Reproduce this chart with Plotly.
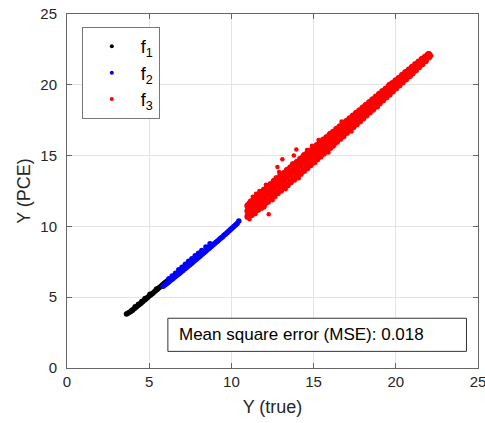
import plotly.graph_objects as go

# ---------------- data ----------------
# f1 (black)
f1_x = [3.62, 3.70, 3.80, 3.90, 4.00, 4.10, 4.20, 4.30, 4.40, 4.50, 4.60, 4.70, 4.80, 4.90,
        5.00, 5.10, 5.20, 5.30, 5.40, 5.50, 5.60, 5.70, 5.80, 5.90, 6.00, 6.10,
        3.95, 4.15, 4.35, 4.55, 4.75, 5.05, 5.45]
f1_y = [3.82, 3.86, 3.93, 4.01, 4.10, 4.20, 4.29, 4.39, 4.49, 4.58, 4.68, 4.78, 4.88, 4.98,
        5.08, 5.17, 5.27, 5.37, 5.47, 5.57, 5.67, 5.76, 5.86, 5.96, 6.05, 6.14,
        4.08, 4.32, 4.51, 4.70, 4.90, 5.21, 5.58]

# f2 (blue)
f2_x = [5.85, 5.95, 6.05, 6.15, 6.25, 6.35, 6.45, 6.55, 6.65, 6.75, 6.85, 6.95, 7.05, 7.15,
        7.25, 7.35, 7.45, 7.55, 7.65, 7.75, 7.85, 7.95, 8.05, 8.15, 8.25, 8.35, 8.45, 8.55,
        8.65, 8.75, 8.85, 8.95, 9.05, 9.15, 9.25, 9.35, 9.45, 9.55, 9.65, 9.75, 9.85, 9.95,
        10.05, 10.15, 10.25, 10.35, 10.45,
        6.20, 6.40, 6.60, 6.80, 7.00, 7.20, 7.40, 7.60, 7.80, 8.00, 8.20, 8.45, 8.70]
f2_y = [5.78, 5.86, 5.95, 6.04, 6.14, 6.23, 6.32, 6.42, 6.51, 6.61, 6.70, 6.80, 6.89, 6.99,
        7.08, 7.18, 7.28, 7.37, 7.47, 7.57, 7.66, 7.76, 7.86, 7.96, 8.06, 8.16, 8.26, 8.36,
        8.46, 8.56, 8.66, 8.76, 8.86, 8.96, 9.06, 9.16, 9.26, 9.37, 9.47, 9.57, 9.68, 9.78,
        9.89, 9.99, 10.10, 10.21, 10.38,
        6.30, 6.50, 6.70, 6.94, 7.12, 7.32, 7.54, 7.72, 7.92, 8.10, 8.30, 8.55, 8.78]

# f3 (red) dense band
f3_x = [11.0, 11.2, 11.4, 11.6, 11.8, 12.0, 12.2, 12.4, 12.6, 12.8, 13.0, 13.2, 13.4, 13.6,
        13.8, 14.0, 14.2, 14.4, 14.6, 14.8, 15.0, 15.2, 15.4, 15.6, 15.8, 16.0, 16.2, 16.4,
        16.6, 16.8, 17.0, 17.2, 17.4, 17.6, 17.8, 18.0, 18.2, 18.4, 18.6, 18.8, 19.0, 19.2,
        19.4, 19.6, 19.8, 20.0, 20.2, 20.4, 20.6, 20.8, 21.0, 21.2, 21.4, 21.6, 21.8, 22.0]
f3_y_low = [10.70, 10.82, 10.95, 11.19, 11.34, 11.58, 11.75, 11.98, 12.14, 12.37, 12.55, 12.76,
            12.93, 13.16, 13.33, 13.56, 13.74, 13.95, 14.14, 14.36, 14.54, 14.76, 14.95, 15.17,
            15.36, 15.58, 15.79, 15.99, 16.21, 16.40, 16.63, 16.82, 17.04, 17.23, 17.45, 17.66,
            17.86, 18.08, 18.28, 18.50, 18.71, 18.92, 19.14, 19.34, 19.56, 19.78, 19.98, 20.20,
            20.41, 20.62, 20.84, 21.05, 21.27, 21.48, 21.70, 21.96]
f3_y_mid = [11.08, 11.32, 11.50, 11.71, 11.93, 12.10, 12.31, 12.50, 12.72, 12.90, 13.12, 13.29,
            13.51, 13.70, 13.90, 14.09, 14.31, 14.49, 14.70, 14.88, 15.10, 15.28, 15.49, 15.68,
            15.88, 16.06, 16.27, 16.45, 16.66, 16.84, 17.05, 17.24, 17.44, 17.64, 17.84, 18.04,
            18.24, 18.44, 18.64, 18.84, 19.04, 19.24, 19.44, 19.64, 19.84, 20.04, 20.24, 20.44,
            20.64, 20.84, 21.04, 21.24, 21.44, 21.63, 21.82, 22.05]
f3_y_high = [11.45, 11.74, 11.98, 12.16, 12.40, 12.57, 12.80, 12.96, 13.19, 13.36, 13.58, 13.74,
             13.97, 14.14, 14.36, 14.53, 14.74, 14.93, 15.12, 15.32, 15.50, 15.72, 15.89, 16.10,
             16.28, 16.47, 16.65, 16.86, 17.03, 17.23, 17.41, 17.61, 17.79, 17.99, 18.17, 18.37,
             18.56, 18.75, 18.95, 19.13, 19.33, 19.52, 19.71, 19.91, 20.09, 20.29, 20.47, 20.67,
             20.86, 21.05, 21.24, 21.43, 21.61, 21.80, 21.97, 22.14]

# f3 scattered edge points / outliers
f3_edge_x = [13.95, 13.80, 12.80, 12.27, 13.10, 11.30, 11.70, 12.10, 12.50, 13.30, 14.10,
             14.60, 15.30, 15.90, 16.70, 17.30, 18.10, 18.90, 19.60, 11.10, 11.05, 12.90,
             21.90, 22.00, 22.10, 22.15, 14.90, 16.20, 11.50, 12.00, 12.70, 13.50, 14.40,
             15.10, 16.00, 17.60, 18.50, 19.20, 20.40, 20.90, 11.90, 13.70, 15.60, 17.00]
f3_edge_y = [15.43, 15.00, 14.20, 10.86, 14.75, 12.10, 12.50, 12.95, 11.85, 12.62, 13.40,
             15.40, 16.10, 15.22, 17.40, 16.70, 18.55, 18.42, 20.05, 10.50, 11.65, 13.85,
             22.15, 22.22, 22.12, 22.05, 15.70, 15.65, 12.30, 11.35, 13.45, 13.05, 15.10,
             14.50, 16.60, 17.30, 18.90, 18.85, 20.65, 20.60, 11.55, 14.45, 15.20, 17.45]

mse_text = "Mean square error (MSE): 0.018"

# ---------------- figure ----------------
fig = go.Figure()

fig.add_trace(go.Scatter(x=f1_x, y=f1_y, mode="markers", name="f<sub>1</sub>",
                         legendgroup="f1", showlegend=False,
                         marker=dict(color="black", size=5.5)))
fig.add_trace(go.Scatter(x=f2_x, y=f2_y, mode="markers", name="f<sub>2</sub>",
                         legendgroup="f2", showlegend=False,
                         marker=dict(color="blue", size=5.5)))
for ys in (f3_y_low, f3_y_mid, f3_y_high):
    fig.add_trace(go.Scatter(x=f3_x, y=ys, mode="markers", name="f<sub>3</sub>",
                             legendgroup="f3", showlegend=False,
                             marker=dict(color="red", size=7)))
fig.add_trace(go.Scatter(x=f3_edge_x, y=f3_edge_y, mode="markers", name="f<sub>3</sub>",
                         legendgroup="f3", showlegend=False,
                         marker=dict(color="red", size=4.5)))

# legend-only entries with small markers
for nm, col in (("f<sub>1</sub>", "black"), ("f<sub>2</sub>", "blue"), ("f<sub>3</sub>", "red")):
    fig.add_trace(go.Scatter(x=[None], y=[None], mode="markers", name=nm,
                             marker=dict(color=col, size=4)))

axis_common = dict(range=[0, 25], dtick=5, showgrid=True, gridcolor="#e3e3e3",
                   showline=True, linecolor="#666666", linewidth=1, mirror="ticks",
                   ticks="inside", ticklen=5, tickcolor="#666666", zeroline=False,
                   ticklabeloverflow="allow", automargin=False,
                   tickfont=dict(family="Liberation Sans, Arial", size=15, color="#262626"),
                   fixedrange=True)

fig.update_layout(
    width=485, height=423,
    margin=dict(l=67, r=7, t=14, b=55),
    plot_bgcolor="white", paper_bgcolor="white",
    font=dict(family="Liberation Sans, Arial", size=15, color="#262626"),
    xaxis=dict(**axis_common,
               title=dict(text="Y (true)", font=dict(size=18), standoff=11)),
    yaxis=dict(**axis_common, ticklabelstandoff=6,
               title=dict(text="Y (PCE)", font=dict(size=18), standoff=5)),
    legend=dict(x=0.036, y=0.963, xanchor="left", yanchor="top",
                bgcolor="white", bordercolor="#777777", borderwidth=1,
                font=dict(size=18, color="black"), itemwidth=48,
                tracegroupgap=0),
    showlegend=True,
    shapes=[dict(type="rect", xref="paper", yref="paper",
                 x0=0.2454, x1=0.972, y0=0.047, y1=0.1405,
                 line=dict(color="#333333", width=1), fillcolor="white",
                 layer="above")],
    annotations=[dict(text=mse_text, xref="paper", yref="paper",
                      x=0.268, y=0.094, xanchor="left", yanchor="middle",
                      showarrow=False, font=dict(size=17, color="black"))],
)

fig.write_html("out.html")
